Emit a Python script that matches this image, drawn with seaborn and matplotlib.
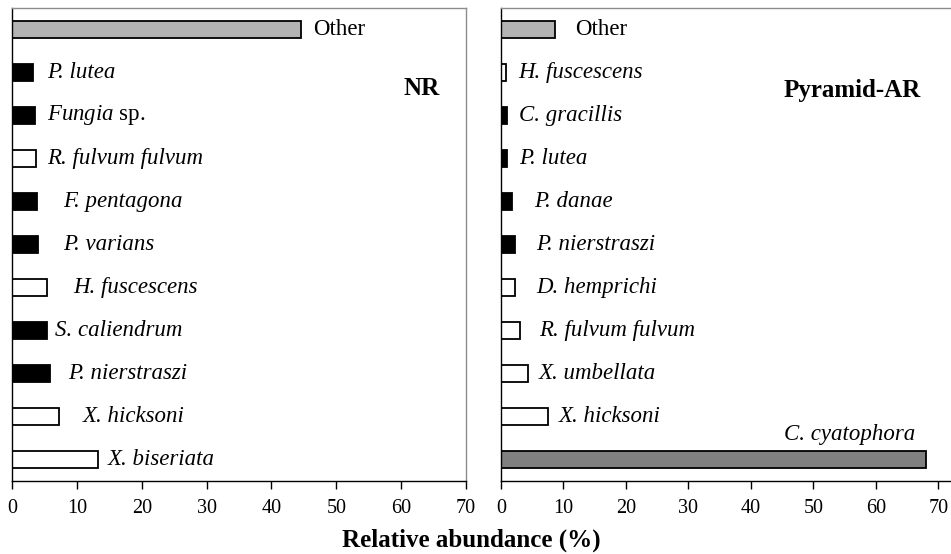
import matplotlib
matplotlib.use("Agg")
import matplotlib.pyplot as plt
import seaborn as sns
import pandas as pd

# NR site (top to bottom)
nr_species = ['Other', 'P. lutea', r'$\it{Fungia}$ sp.', 'R. fulvum fulvum', 'F. pentagona',
              'P. varians', 'H. fuscescens', 'S. caliendrum', 'P. nierstraszi',
              'X. hicksoni', 'X. biseriata']
nr_values = [44.5, 3.3, 3.55, 3.7, 3.8, 4.05, 5.35, 5.4, 5.9, 7.25, 13.3]
nr_group = ['other', 'stony', 'stony', 'soft', 'stony', 'stony', 'soft', 'stony', 'stony',
            'soft', 'soft']

# Pyramid-AR site (top to bottom)
ar_species = ['Other', 'H. fuscescens', 'C. gracillis', 'P. lutea', 'P. danae',
              'P. nierstraszi', 'D. hemprichi', 'R. fulvum fulvum', 'X. umbellata',
              'X. hicksoni', 'C. cyatophora']
ar_values = [8.6, 0.75, 0.9, 0.9, 1.75, 2.25, 2.2, 3.1, 4.4, 7.5, 68.0]
ar_group = ['other', 'soft', 'stony', 'stony', 'stony', 'stony', 'soft', 'soft', 'soft',
            'soft', 'dominant']

# label x positions (data units), layout only
nr_label_x = [46.4, 5.4, 5.4, 5.4, 7.9, 7.9, 9.4, 6.6, 8.6, 10.9, 14.8]
ar_label_x = [11.8, 2.7, 2.9, 2.9, 5.3, 5.6, 5.6, 6.1, 6.1, 9.3, 66.3]

group_colors = {'other': '#b3b3b3', 'stony': 'black', 'soft': 'white', 'dominant': '#808080'}

sns.set_theme(style="white")
plt.rcParams['font.family'] = ['Liberation Serif', 'DejaVu Serif']
plt.rcParams['mathtext.fontset'] = 'custom'
plt.rcParams['mathtext.rm'] = 'Liberation Serif'
plt.rcParams['mathtext.it'] = 'Liberation Serif:italic'
plt.rcParams['text.color'] = 'black'
plt.rcParams['xtick.color'] = 'black'
plt.rcParams['xtick.labelcolor'] = 'black'

LABEL_SIZE = 16.5


def draw_panel(ax, species, values, groups, label_x, xmax, title, title_pos):
    df = pd.DataFrame({'species': species, 'value': values, 'group': groups})
    pal = {s: group_colors[g] for s, g in zip(species, groups)}
    sns.barplot(data=df, y='species', x='value', hue='species', palette=pal, legend=False,
                orient='h', width=0.4, edgecolor='black', linewidth=1.3, saturation=1, ax=ax)
    ax.set_xlim(0, xmax)
    ax.set_ylim(len(species) - 0.5, -0.5)
    ax.set_xticks(range(0, 71, 10))
    ax.set_yticks([])
    ax.set_xlabel('')
    ax.set_ylabel('')
    ax.tick_params(axis='x', bottom=True, direction='out', length=6, width=1,
                   labelsize=14.5, pad=7, color='black', labelcolor='black')
    for sp in ['left', 'bottom']:
        ax.spines[sp].set_color('black')
        ax.spines[sp].set_linewidth(1.0)
    for sp in ['top', 'right']:
        ax.spines[sp].set_color('#8c8c8c')
        ax.spines[sp].set_linewidth(1.0)

    for i, (s, lx) in enumerate(zip(species, label_x)):
        if s == 'Other':
            ax.text(lx, i, s, ha='left', va='center', fontsize=LABEL_SIZE)
        elif s == 'C. cyatophora':
            ax.text(lx, i - 0.58, s, ha='right', va='center', fontsize=LABEL_SIZE, style='italic')
        elif s.startswith('$'):
            ax.text(lx, i, s, ha='left', va='center', fontsize=LABEL_SIZE)
        else:
            ax.text(lx, i, s, ha='left', va='center', fontsize=LABEL_SIZE, style='italic')

    ax.text(title_pos[0], title_pos[1], title, transform=ax.transAxes, ha='center',
            va='center', fontsize=18, fontweight='bold')


fig = plt.figure(figsize=(9.51, 5.54), dpi=100)
ax1 = fig.add_axes([0.0126, 0.1318, 0.4774, 0.8538])
ax2 = fig.add_axes([0.5268, 0.1318, 0.4732, 0.8538])

draw_panel(ax1, nr_species, nr_values, nr_group, nr_label_x, 70, 'NR', (0.903, 0.829))
draw_panel(ax2, ar_species, ar_values, ar_group, ar_label_x, 72, 'Pyramid-AR', (0.78, 0.825))
ax2.spines['right'].set_visible(False)

fig.text(0.496, 1 - 540 / 554, 'Relative abundance (%)', ha='center', va='center',
         fontsize=18, fontweight='bold')

fig.savefig('out.png', dpi=100)
